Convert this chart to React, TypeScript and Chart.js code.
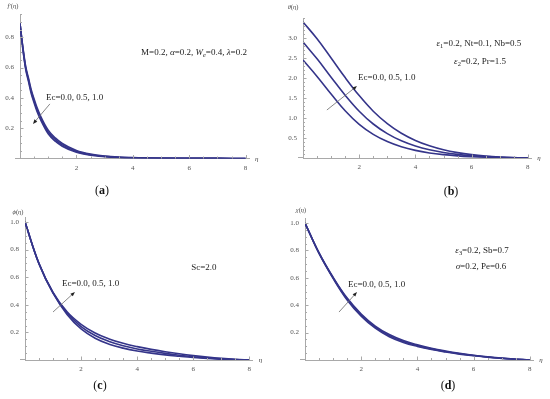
import React, { useEffect, useRef } from 'react';
import { Chart, registerables } from 'chart.js';

Chart.register(...registerables);

// ---------- data ----------
const xTicks = [2, 4, 6, 8];

// (a) f'(eta)
const etaA = [0, 0.1, 0.2, 0.3, 0.4, 0.5, 0.6, 0.75, 1, 1.25, 1.5, 2, 2.5, 3, 3.5, 4, 5, 6, 7, 8];
const fPrimeEc00 = [0.89, 0.737, 0.61, 0.531, 0.453, 0.393, 0.338, 0.272, 0.187, 0.136, 0.099, 0.053, 0.029, 0.016, 0.009, 0.0055, 0.0022, 0.001, 0.0005, 0];
const fPrimeEc05 = [0.89, 0.73, 0.6, 0.52, 0.44, 0.38, 0.325, 0.26, 0.175, 0.125, 0.09, 0.047, 0.025, 0.014, 0.008, 0.005, 0.002, 0.001, 0.0005, 0];
const fPrimeEc10 = [0.89, 0.723, 0.59, 0.509, 0.427, 0.367, 0.312, 0.248, 0.163, 0.114, 0.081, 0.041, 0.021, 0.012, 0.007, 0.0045, 0.0018, 0.001, 0.0005, 0];
const yTicksA = [0.2, 0.4, 0.6, 0.8];

// (b) theta(eta)
const etaB = [0, 0.5, 1, 1.5, 2, 2.5, 3, 3.5, 4, 4.5, 5, 5.5, 6, 6.5, 7, 7.5, 8];
const thetaEc00 = [2.45, 2.04, 1.6, 1.18, 0.84, 0.59, 0.41, 0.28, 0.19, 0.127, 0.084, 0.054, 0.034, 0.02, 0.01, 0.004, 0];
const thetaEc05 = [2.9, 2.48, 2.02, 1.57, 1.17, 0.85, 0.61, 0.43, 0.3, 0.205, 0.138, 0.09, 0.057, 0.034, 0.018, 0.007, 0];
const thetaEc10 = [3.4, 2.98, 2.5, 2.01, 1.56, 1.17, 0.86, 0.62, 0.44, 0.305, 0.205, 0.135, 0.085, 0.05, 0.026, 0.01, 0];
const yTicksB = [0.5, 1.0, 1.5, 2.0, 2.5, 3.0];

// (c) phi(eta)
const etaC = [0, 0.5, 1, 1.5, 2, 2.5, 3, 3.5, 4, 4.5, 5, 5.5, 6, 6.5, 7, 7.5, 8];
const phiEc00 = [1.0, 0.697, 0.484, 0.33, 0.225, 0.158, 0.115, 0.086, 0.065, 0.05, 0.037, 0.027, 0.018, 0.011, 0.006, 0.002, 0];
const phiEc05 = [1.0, 0.698, 0.487, 0.34, 0.242, 0.177, 0.134, 0.103, 0.08, 0.063, 0.048, 0.035, 0.024, 0.015, 0.008, 0.003, 0];
const phiEc10 = [1.0, 0.699, 0.49, 0.35, 0.259, 0.196, 0.153, 0.121, 0.097, 0.077, 0.06, 0.045, 0.032, 0.021, 0.012, 0.005, 0];
const yTicksC = [0.2, 0.4, 0.6, 0.8, 1.0];

// (d) chi(eta)
const etaD = [0, 0.5, 1, 1.5, 2, 2.5, 3, 3.5, 4, 4.5, 5, 5.5, 6, 6.5, 7, 7.5, 8];
const chiEc00 = [1.0, 0.778, 0.596, 0.438, 0.32, 0.232, 0.17, 0.128, 0.099, 0.076, 0.058, 0.043, 0.031, 0.021, 0.012, 0.006, 0];
const chiEc05 = [1.0, 0.78, 0.6, 0.445, 0.328, 0.24, 0.178, 0.135, 0.105, 0.081, 0.062, 0.046, 0.033, 0.022, 0.013, 0.006, 0];
const chiEc10 = [1.0, 0.782, 0.604, 0.452, 0.336, 0.248, 0.186, 0.142, 0.111, 0.086, 0.066, 0.049, 0.035, 0.023, 0.014, 0.006, 0];
const yTicksD = [0.2, 0.4, 0.6, 0.8, 1.0];

const ecLabel = 'Ec=0.0, 0.5, 1.0';

// ---------- style ----------
const SERIF = '"Liberation Serif", "Times New Roman", Times, serif';
const LINE = '#35358a';
const AXIS = '#a9a9a9';
const TICKTXT = '#555555';
const TEXT = '#1c1c1c';

type Seg = { t: string; it?: boolean; sub?: boolean };

function drawRich(
  ctx: CanvasRenderingContext2D,
  segs: Seg[],
  x: number,
  y: number,
  size: number,
  align: 'left' | 'center' | 'right',
  color: string
) {
  const fontFor = (s: Seg) => `${s.it ? 'italic ' : ''}${s.sub ? size * 0.72 : size}px ${SERIF}`;
  let total = 0;
  for (const s of segs) {
    ctx.font = fontFor(s);
    total += ctx.measureText(s.t).width;
  }
  let cx = align === 'center' ? x - total / 2 : align === 'right' ? x - total : x;
  ctx.fillStyle = color;
  ctx.textAlign = 'left';
  ctx.textBaseline = 'alphabetic';
  for (const s of segs) {
    ctx.font = fontFor(s);
    ctx.fillText(s.t, cx, s.sub ? y + size * 0.25 : y);
    cx += ctx.measureText(s.t).width;
  }
}

function drawArrow(ctx: CanvasRenderingContext2D, x1: number, y1: number, x2: number, y2: number) {
  const ang = Math.atan2(y2 - y1, x2 - x1);
  const hl = 4.5;
  const hw = 1.8;
  ctx.strokeStyle = '#6a6a6a';
  ctx.lineWidth = 0.8;
  ctx.beginPath();
  ctx.moveTo(x1, y1);
  ctx.lineTo(x2 - Math.cos(ang) * hl * 0.8, y2 - Math.sin(ang) * hl * 0.8);
  ctx.stroke();
  ctx.fillStyle = '#222222';
  ctx.beginPath();
  ctx.moveTo(x2, y2);
  ctx.lineTo(x2 - Math.cos(ang) * hl - Math.sin(ang) * hw, y2 - Math.sin(ang) * hl + Math.cos(ang) * hw);
  ctx.lineTo(x2 - Math.cos(ang) * hl + Math.sin(ang) * hw, y2 - Math.sin(ang) * hl - Math.cos(ang) * hw);
  ctx.closePath();
  ctx.fill();
}

interface Note {
  segs: Seg[];
  x: number;
  y: number;
  align: 'left' | 'center' | 'right';
}

interface PanelSpec {
  key: string;
  left: number;
  top: number;
  w: number;
  h: number;
  pad: { left: number; top: number; right: number; bottom: number };
  eta: number[];
  series: number[][];
  smooth: 'monotone' | 'tension';
  yTicks: number[];
  yMax: number;
  yMinor: number;
  xMax: number;
  yLabel: Seg[];
  yLabelOff: [number, number];
  notes: Note[];
  arrow: [number, number, number, number];
  caption: string;
  captionPos: [number, number];
}

const panels: PanelSpec[] = [
  {
    key: 'a',
    left: 0,
    top: 0,
    w: 275,
    h: 200,
    pad: { left: 0, top: 14.5, right: 26, bottom: 21.5 },
    eta: etaA,
    series: [fPrimeEc00, fPrimeEc05, fPrimeEc10],
    smooth: 'monotone',
    yTicks: yTicksA,
    yMax: 0.95,
    yMinor: 0.05,
    xMax: 8.12,
    yLabel: [{ t: 'f', it: true }, { t: '′(' }, { t: 'η', it: true }, { t: ')' }],
    yLabelOff: [-7, -6.5],
    notes: [
      {
        segs: [
          { t: 'M=0.2, ' },
          { t: 'α', it: true },
          { t: '=0.2, ' },
          { t: 'W', it: true },
          { t: 'e', it: true, sub: true },
          { t: '=0.4, ' },
          { t: 'λ', it: true },
          { t: '=0.2' },
        ],
        x: 6.17,
        y: 0.683,
        align: 'center',
      },
      { segs: [{ t: ecLabel }], x: 0.92, y: 0.386, align: 'left' },
    ],
    arrow: [1.06, 0.36, 0.46, 0.228],
    caption: 'a',
    captionPos: [102, 194],
  },
  {
    key: 'b',
    left: 275,
    top: 0,
    w: 275,
    h: 200,
    pad: { left: 8, top: 18, right: 18.8, bottom: 22 },
    eta: etaB,
    series: [thetaEc00, thetaEc05, thetaEc10],
    smooth: 'tension',
    yTicks: yTicksB,
    yMax: 3.5,
    yMinor: 0.1,
    xMax: 8.12,
    yLabel: [{ t: 'θ', it: true }, { t: '(' }, { t: 'η', it: true }, { t: ')' }],
    yLabelOff: [-10, -9],
    notes: [
      {
        segs: [{ t: 'ε', it: true }, { t: '1', sub: true }, { t: '=0.2, Nt=0.1, Nb=0.5' }],
        x: 6.26,
        y: 2.8,
        align: 'center',
      },
      {
        segs: [{ t: 'ε', it: true }, { t: '2', sub: true }, { t: '=0.2, Pr=1.5' }],
        x: 6.3,
        y: 2.35,
        align: 'center',
      },
      { segs: [{ t: ecLabel }], x: 1.96, y: 1.95, align: 'left' },
    ],
    arrow: [0.85, 1.2, 1.92, 1.8],
    caption: 'b',
    captionPos: [176, 195],
  },
  {
    key: 'c',
    left: 0,
    top: 200,
    w: 275,
    h: 199,
    pad: { left: 5, top: 17.9, right: 22.3, bottom: 19 },
    eta: etaC,
    series: [phiEc00, phiEc05, phiEc10],
    smooth: 'tension',
    yTicks: yTicksC,
    yMax: 1.03,
    yMinor: 0.05,
    xMax: 8.12,
    yLabel: [{ t: 'ϕ', it: true }, { t: '(' }, { t: 'η', it: true }, { t: ')' }],
    yLabelOff: [-7, -4],
    notes: [
      { segs: [{ t: 'Sc=2.0' }], x: 6.38, y: 0.652, align: 'center' },
      { segs: [{ t: ecLabel }], x: 1.32, y: 0.536, align: 'left' },
    ],
    arrow: [1.0, 0.348, 1.78, 0.493],
    caption: 'c',
    captionPos: [100, 189],
  },
  {
    key: 'd',
    left: 275,
    top: 200,
    w: 275,
    h: 199,
    pad: { left: 10, top: 18.9, right: 16.8, bottom: 19 },
    eta: etaD,
    series: [chiEc00, chiEc05, chiEc10],
    smooth: 'tension',
    yTicks: yTicksD,
    yMax: 1.03,
    yMinor: 0.05,
    xMax: 8.12,
    yLabel: [{ t: 'χ', it: true }, { t: '(' }, { t: 'η', it: true }, { t: ')' }],
    yLabelOff: [-4, -7],
    notes: [
      {
        segs: [{ t: 'ε', it: true }, { t: '3', sub: true }, { t: '=0.2, Sb=0.7' }],
        x: 6.3,
        y: 0.78,
        align: 'center',
      },
      {
        segs: [{ t: 'σ', it: true }, { t: '=0.2, Pe=0.6' }],
        x: 6.26,
        y: 0.664,
        align: 'center',
      },
      { segs: [{ t: ecLabel }], x: 1.53, y: 0.533, align: 'left' },
    ],
    arrow: [1.21, 0.35, 1.85, 0.496],
    caption: 'd',
    captionPos: [173, 189],
  },
];

function Panel({ spec }: { spec: PanelSpec }) {
  const ref = useRef<HTMLCanvasElement>(null);

  useEffect(() => {
    const canvas = ref.current;
    if (!canvas) return;

    const deco = {
      id: 'deco_' + spec.key,
      afterDraw(chart: any) {
        const ctx: CanvasRenderingContext2D = chart.ctx;
        const xs = chart.scales.x;
        const ys = chart.scales.y;
        const ca = chart.chartArea;
        const y0 = ys.getPixelForValue(0);
        const x0 = xs.getPixelForValue(0);
        ctx.save();

        // short extension of the horizontal axis to the left of the origin
        ctx.strokeStyle = AXIS;
        ctx.lineWidth = 1;
        ctx.beginPath();
        ctx.moveTo(x0 - 5, Math.round(y0) - 0.5);
        ctx.lineTo(x0, Math.round(y0) - 0.5);
        ctx.stroke();

        // inward tick marks (major + minor)
        const xMinor = 0.5;
        for (let k = 1; k * xMinor <= 8 + 1e-9; k++) {
          const v = k * xMinor;
          const major = xTicks.some((t) => Math.abs(t - v) < 1e-6);
          const px = Math.round(xs.getPixelForValue(v)) + 0.5;
          ctx.beginPath();
          ctx.moveTo(px, y0);
          ctx.lineTo(px, y0 - (major ? 3.5 : 2));
          ctx.stroke();
        }
        for (let k = 1; k * spec.yMinor <= spec.yMax + 1e-9; k++) {
          const v = k * spec.yMinor;
          const major = spec.yTicks.some((t) => Math.abs(t - v) < 1e-6);
          const py = Math.round(ys.getPixelForValue(v)) + 0.5;
          ctx.beginPath();
          ctx.moveTo(x0, py);
          ctx.lineTo(x0 + (major ? 3.5 : 2), py);
          ctx.stroke();
        }

        // axis labels
        drawRich(ctx, spec.yLabel, ca.left + spec.yLabelOff[0], ca.top + spec.yLabelOff[1], 6.5, 'center', '#444');
        drawRich(ctx, [{ t: 'η', it: true }], ca.right + 6, y0 + 2, 7, 'left', '#444');

        // annotations
        for (const n of spec.notes) {
          drawRich(ctx, n.segs, xs.getPixelForValue(n.x), ys.getPixelForValue(n.y), 9, n.align, TEXT);
        }

        // arrow
        const [ax1, ay1, ax2, ay2] = spec.arrow;
        drawArrow(
          ctx,
          xs.getPixelForValue(ax1),
          ys.getPixelForValue(ay1),
          xs.getPixelForValue(ax2),
          ys.getPixelForValue(ay2)
        );

        // caption
        ctx.fillStyle = '#111';
        ctx.textAlign = 'left';
        ctx.textBaseline = 'alphabetic';
        const open = '(';
        const close = ')';
        ctx.font = `bold 12px ${SERIF}`;
        const wL = ctx.measureText(spec.caption).width;
        ctx.font = `12px ${SERIF}`;
        const wO = ctx.measureText(open).width;
        const wC = ctx.measureText(close).width;
        let cx = spec.captionPos[0] - (wO + wL + wC) / 2;
        const cy = spec.captionPos[1];
        ctx.fillText(open, cx, cy);
        cx += wO;
        ctx.font = `bold 12px ${SERIF}`;
        ctx.fillText(spec.caption, cx, cy);
        cx += wL;
        ctx.font = `12px ${SERIF}`;
        ctx.fillText(close, cx, cy);

        ctx.restore();
      },
    };

    const tickFont = { family: SERIF, size: 7 };

    const chart = new Chart(canvas, {
      type: 'line',
      data: {
        datasets: spec.series.map((s, i) => ({
          label: ['Ec=0.0', 'Ec=0.5', 'Ec=1.0'][i],
          data: spec.eta.map((x, j) => ({ x, y: s[j] })),
          borderColor: LINE,
          borderWidth: 1.6,
          pointRadius: 0,
          fill: false,
          ...(spec.smooth === 'monotone'
            ? { cubicInterpolationMode: 'monotone' as const }
            : { tension: 0.4 }),
        })),
      },
      options: {
        animation: false,
        responsive: false,
        maintainAspectRatio: false,
        devicePixelRatio: 1,
        layout: { padding: spec.pad },
        plugins: {
          legend: { display: false },
          tooltip: { enabled: false },
          title: { display: false },
        },
        scales: {
          x: {
            type: 'linear',
            min: 0,
            max: spec.xMax,
            afterBuildTicks: (s: any) => {
              s.ticks = xTicks.map((v) => ({ value: v }));
            },
            afterFit: (s: any) => {
              s.height = 20;
            },
            ticks: {
              autoSkip: false,
              maxRotation: 0,
              padding: 5,
              font: tickFont,
              color: TICKTXT,
              callback: (v: any) => String(v),
            },
            grid: { display: false, drawTicks: false },
            border: { display: true, color: AXIS, width: 1 },
          },
          y: {
            type: 'linear',
            min: 0,
            max: spec.yMax,
            afterBuildTicks: (s: any) => {
              s.ticks = spec.yTicks.map((v) => ({ value: v }));
            },
            afterFit: (s: any) => {
              s.width = 20;
            },
            ticks: {
              autoSkip: false,
              padding: 6,
              font: tickFont,
              color: TICKTXT,
              callback: (v: any) => Number(v).toFixed(1),
            },
            grid: { display: false, drawTicks: false },
            border: { display: true, color: AXIS, width: 1 },
          },
        },
      },
      plugins: [deco],
    } as any);

    return () => chart.destroy();
  }, [spec]);

  return (
    <canvas
      ref={ref}
      width={spec.w}
      height={spec.h}
      style={{ position: 'absolute', left: spec.left, top: spec.top, width: spec.w, height: spec.h }}
    />
  );
}

export default function App() {
  return (
    <div
      style={{
        position: 'absolute',
        left: 0,
        top: 0,
        width: 550,
        height: 399,
        background: '#ffffff',
        overflow: 'hidden',
      }}
    >
      {panels.map((p) => (
        <Panel key={p.key} spec={p} />
      ))}
    </div>
  );
}
